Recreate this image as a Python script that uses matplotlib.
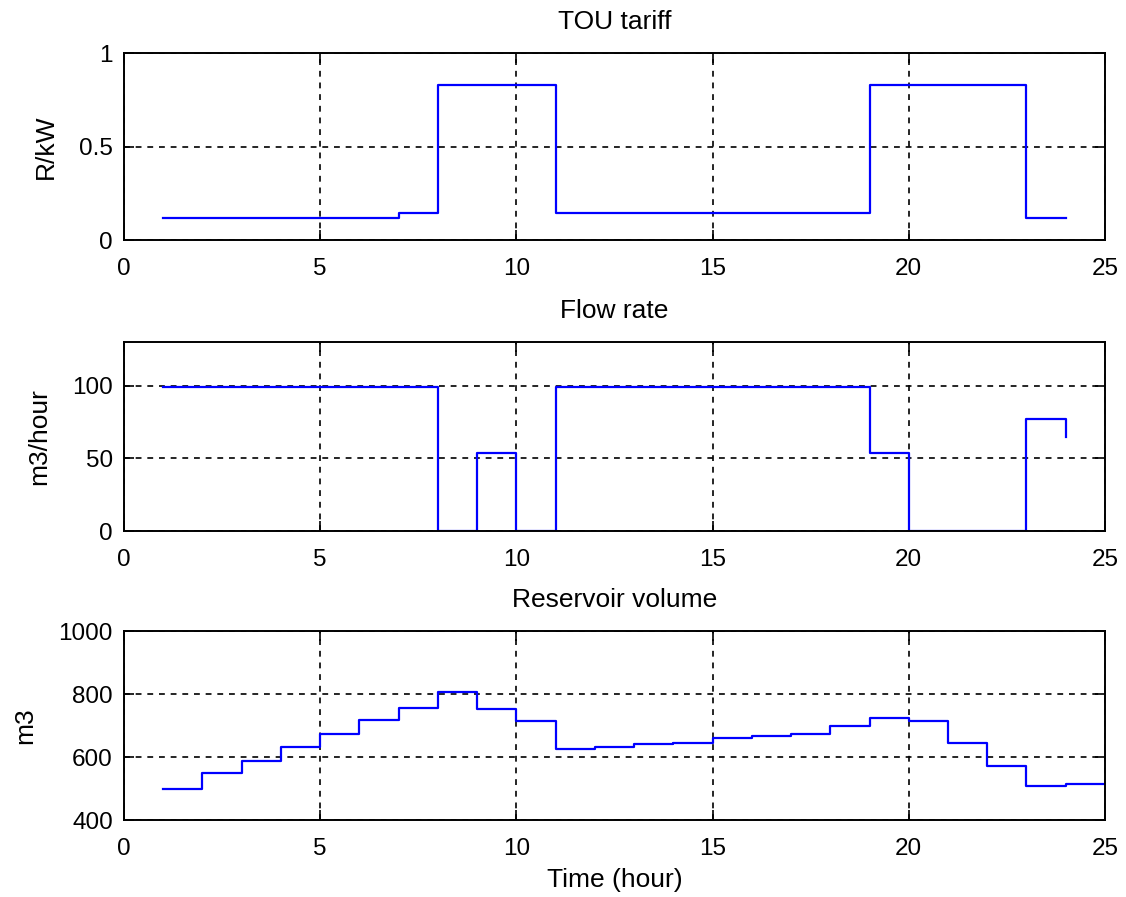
import numpy as np
import matplotlib
matplotlib.use("Agg")
import matplotlib.pyplot as plt

plt.rcParams['font.family'] = ['Liberation Sans', 'DejaVu Sans']

# hourly data (stairs, value holds until next hour)
hours = list(range(1, 25))
tariff = [0.12, 0.12, 0.12, 0.12, 0.12, 0.12, 0.145, 0.83, 0.83, 0.83,
          0.145, 0.145, 0.145, 0.145, 0.145, 0.145, 0.145, 0.145,
          0.83, 0.83, 0.83, 0.83, 0.12, 0.12]
flow = [99, 99, 99, 99, 99, 99, 99, 0, 54, 0,
        99, 99, 99, 99, 99, 99, 99, 99,
        54, 0, 0, 0, 77, 65]
vol_hours = list(range(1, 26))
volume = [500, 548, 587, 633, 672, 719, 757, 805, 751, 715,
          627, 633, 640, 646, 659, 666, 673, 698, 725, 714,
          646, 573, 509, 515, 515]

titles = ["TOU tariff", "Flow rate", "Reservoir volume"]
ylabels = ["R/kW", "m3/hour", "m3"]
xticks = [0, 5, 10, 15, 20, 25]
yticks = [[0, 0.5, 1], [0, 50, 100], [400, 600, 800, 1000]]
ylims = [(0, 1), (0, 130), (400, 1000)]

fig = plt.figure(figsize=(11.26, 8.97), dpi=100)
rects = [[0.1101, 0.7324, 0.8712, 0.2085],
         [0.1101, 0.4080, 0.8712, 0.2107],
         [0.1101, 0.0858, 0.8712, 0.2107]]
series = [(hours, tariff), (hours, flow), (vol_hours, volume)]
tick_fs = 17.5
text_fs = 19

for i, (x, y) in enumerate(series):
    ax = fig.add_axes(rects[i])
    ax.step(x, y, where='post', color='#0000ff', lw=1.6)
    ax.set_xlim(0, 25)
    ax.set_ylim(*ylims[i])
    ax.set_xticks(xticks)
    ax.set_yticks(yticks[i])
    ax.set_yticklabels([f"{v:g}" for v in yticks[i]])
    ax.grid(True, color='black', linestyle=(0, (3.5, 3.5)), lw=1.2)
    ax.tick_params(direction='in', top=True, right=True, length=7, width=1.2,
                   labelsize=tick_fs)
    ax.tick_params(axis='x', pad=13)
    ax.tick_params(axis='y', pad=8)
    for s in ax.spines.values():
        s.set_linewidth(1.4)
    ax.set_title(titles[i], fontsize=text_fs, pad=17)
    ax.set_ylabel(ylabels[i], fontsize=text_fs, labelpad=15)

ax.set_xlabel("Time (hour)", fontsize=text_fs, labelpad=6)

fig.savefig("out.png", dpi=100)
